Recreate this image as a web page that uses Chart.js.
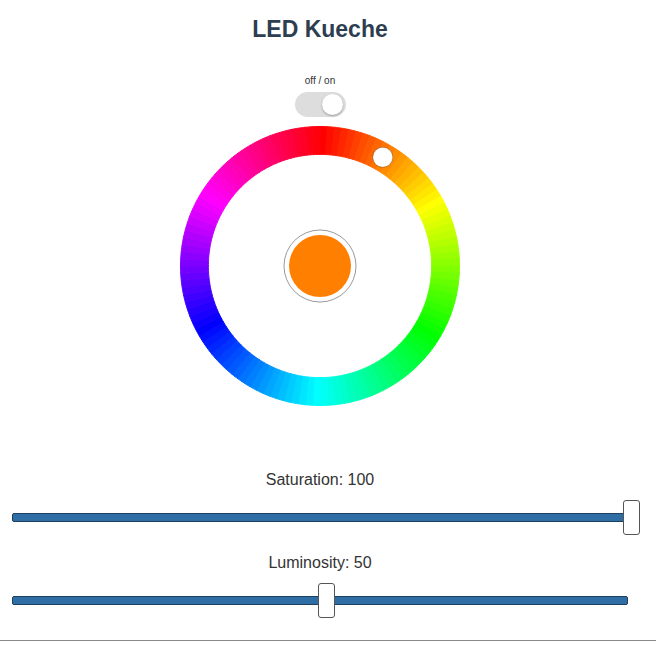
<!DOCTYPE html>
<html>
<head>
<meta charset="utf-8">
<script src="https://cdn.jsdelivr.net/npm/chart.js@4"></script>
<style>
  body { margin: 0; width: 656px; height: 656px; background: #fff; font-family: "Liberation Sans", Arial, sans-serif; position: relative; overflow: hidden; }
  h1 { position: absolute; top: 16px; left: 0; width: 640px; text-align: center; margin: 0; font-size: 23px; color: #2c3e50; }
  .small { position: absolute; top: 75px; left: 0; width: 640px; text-align: center; font-size: 10px; color: #333; }
  .toggle { position: absolute; left: 295px; top: 92px; width: 51px; height: 25px; border-radius: 13px; background: #ddd; }
  .toggle .knob { position: absolute; right: 3px; top: 2px; width: 21px; height: 21px; border-radius: 50%; background: #fff; box-shadow: 0 1px 2px rgba(0,0,0,0.3); }
  #wheelBox { position: absolute; left: 178px; top: 124px; width: 284px; height: 284px; }
  .label { position: absolute; left: 0; width: 640px; text-align: center; font-size: 16px; color: #333; }
  .track { position: absolute; left: 12px; width: 616px; height: 9px; background: #2f6ea5; border: 1px solid #1e3f5e; border-radius: 2px; box-sizing: border-box; }
  .thumb { position: absolute; width: 17px; height: 35px; background: #fff; border: 1px solid #555; border-radius: 3px; box-sizing: border-box; }
  .rule { position: absolute; left: 0; top: 640px; width: 656px; height: 1px; background: #888; }
</style>
</head>
<body>
<h1>LED Kueche</h1>
<div class="small">off / on</div>
<div class="toggle"><div class="knob"></div></div>
<div id="wheelBox"><canvas id="wheel"></canvas></div>
<div class="label" style="top:471px">Saturation: 100</div>
<div class="track" style="top:513px"></div>
<div class="thumb" id="satThumb" style="top:500px"></div>
<div class="label" style="top:554px">Luminosity: 50</div>
<div class="track" style="top:596px"></div>
<div class="thumb" id="lumThumb" style="top:583px"></div>
<div class="rule"></div>
<script>
// Zustand der Lampe
const SEGMENTS = 120;
const segmentValues = Array(SEGMENTS).fill(1);
const selectedHue = 30;
const saturation = 100;
const luminosity = 50;

const segmentColors = segmentValues.map((v, i) => `hsl(${i * 360 / SEGMENTS}, 100%, 50%)`);

// Slider-Positionen
function placeThumb(id, value) {
    const el = document.getElementById(id);
    el.style.left = (12 + value / 100 * 611) + 'px';
}
placeThumb('satThumb', saturation);
placeThumb('lumThumb', luminosity);

const handlePlugin = {
    id: 'handle',
    afterDraw(chart) {
        const arc = chart.getDatasetMeta(0).data[0];
        const ctx = chart.ctx;
        const cx = arc.x, cy = arc.y;
        const mid = (arc.outerRadius + arc.innerRadius) / 2;
        const a = (selectedHue - 90) * Math.PI / 180;
        // Mitte: aktuelle Farbe
        ctx.save();
        ctx.beginPath();
        ctx.arc(cx, cy, 36, 0, Math.PI * 2);
        ctx.fillStyle = '#fff';
        ctx.fill();
        ctx.strokeStyle = '#999';
        ctx.lineWidth = 1;
        ctx.stroke();
        ctx.beginPath();
        ctx.arc(cx, cy, 31, 0, Math.PI * 2);
        ctx.fillStyle = `hsl(${selectedHue}, ${saturation}%, ${luminosity}%)`;
        ctx.fill();
        // Griff
        ctx.beginPath();
        ctx.arc(cx + mid * Math.cos(a), cy + mid * Math.sin(a), 10, 0, Math.PI * 2);
        ctx.fillStyle = '#fff';
        ctx.fill();
        ctx.strokeStyle = 'rgba(0,0,0,0.25)';
        ctx.stroke();
        ctx.restore();
    }
};

new Chart(document.getElementById('wheel').getContext('2d'), {
    type: 'doughnut',
    data: {
        labels: segmentValues.map((v, i) => i),
        datasets: [{
            data: segmentValues,
            backgroundColor: segmentColors,
            borderColor: segmentColors,
            borderWidth: 1
        }]
    },
    options: {
        responsive: true,
        maintainAspectRatio: true,
        animation: false,
        cutout: '80%',
        layout: { padding: 2 },
        plugins: { legend: { display: false }, tooltip: { enabled: false } }
    },
    plugins: [handlePlugin]
});
</script>
</body>
</html>
